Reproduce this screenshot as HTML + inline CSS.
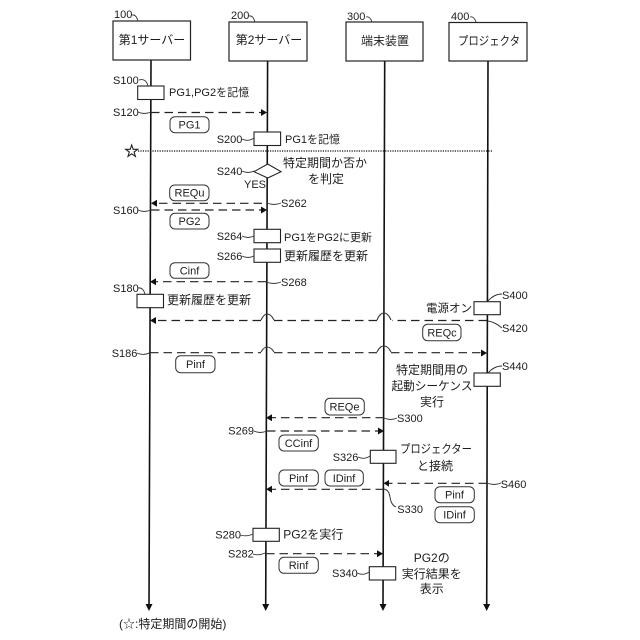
<!DOCTYPE html>
<html><head><meta charset="utf-8">
<style>
html,body{margin:0;padding:0;background:#fff;width:640px;height:640px;overflow:hidden}
svg{display:block}
text{font-family:"Liberation Sans","Noto Sans CJK JP",sans-serif;font-size:11px;fill:#1c1c1c}
.s{font-size:11px}
.b{font-size:12px}
.m{text-anchor:middle}
.l{stroke:#111;stroke-width:1.6;fill:none}
.d{stroke:#222;stroke-width:1.2;fill:none;stroke-dasharray:8.5 5}
.q{stroke:#333;stroke-width:.9;fill:none}
.r{stroke:#222;stroke-width:1.1;fill:#fff}
.p{stroke:#333;stroke-width:1;fill:#fff}
.h{fill:#111;stroke:none}
</style></head><body>
<svg width="640" height="640" viewBox="0 0 640 640" xmlns="http://www.w3.org/2000/svg">
<rect width="640" height="640" fill="#fff"/>

<!-- lifelines -->
<path class="l" d="M151 60L149 606M267.6 61L265.7 606M384.7 61L383 606M488 61L486.7 606"/>
<path class="h" d="M145.5 604H152.5L149 611ZM262.2 604H269.2L265.7 611ZM379.5 604H386.5L383 611ZM483.2 604H490.2L486.7 611Z"/>

<!-- header boxes -->
<g fill="#fff" stroke="#222" stroke-width="1.2">
<rect x="113" y="21" width="77.5" height="39"/>
<rect x="229" y="22" width="78" height="39"/>
<rect x="346" y="22" width="77" height="39"/>
<rect x="449" y="22.5" width="78" height="38.5"/>
</g>
<text class="b m" x="152" y="44">第1サーバー</text>
<text class="b m" x="269" y="44">第2サーバー</text>
<text class="b m" x="385" y="45">端末装置</text>
<text class="b m" x="489" y="45" textLength="62" lengthAdjust="spacingAndGlyphs">プロジェクタ</text>
<text x="114" y="18">100</text><path class="q" d="M132 15Q136 14 138 21"/>
<text x="231" y="19">200</text><path class="q" d="M249 16Q253 15 255 22"/>
<text x="347" y="20">300</text><path class="q" d="M366 17Q370 16 372 22"/>
<text x="451" y="20">400</text><path class="q" d="M470 17Q474 16 476 22"/>

<!-- dotted -->
<line x1="138" y1="151" x2="493" y2="151" stroke="#111" stroke-width="1.2" stroke-dasharray="1.2 1.2"/>
<path d="M131.7 145L133.2 149.3H137.7L134.1 152L135.4 156.4L131.7 153.8L128 156.4L129.3 152L125.7 149.3H130.2Z" fill="#fff" stroke="#222" stroke-width="1.1"/>

<!-- activity boxes -->
<rect class="r" x="137.7" y="86" width="26.3" height="13.5"/>
<rect class="r" x="254" y="132" width="26.6" height="13.5"/>
<path class="r" d="M267.7 164L281 171.7L267.7 178L254 171.7Z"/>
<rect class="r" x="254" y="229.3" width="26.5" height="13.4"/>
<rect class="r" x="254" y="249" width="26.5" height="13.3"/>
<rect class="r" x="137" y="294.3" width="26.5" height="13.4"/>
<rect class="r" x="474" y="301.7" width="26.3" height="13"/>
<rect class="r" x="474" y="373" width="26.3" height="13.3"/>
<rect class="r" x="370.3" y="450.3" width="25.7" height="13"/>
<rect class="r" x="253" y="528.3" width="26.3" height="13"/>
<rect class="r" x="369.3" y="566.7" width="26.4" height="13.3"/>

<!-- arrows -->
<path class="d" d="M151 112.5H262"/><path class="h" d="M261 109L267 112.5L261 116Z"/>
<path class="d" d="M262 203.3H156"/><path class="h" d="M157 199.8L151 203.3L157 206.8Z"/>
<path class="d" d="M151 210H262"/><path class="h" d="M261 206.5L267 210L261 213.5Z"/>
<path class="d" d="M266 281.7H156"/><path class="h" d="M156 278.2L150 281.7L156 285.2Z"/>

<path class="d" d="M487 320.5H392M377 320.5H274M261 320.5H155"/><path class="h" d="M156 317L150 320.5L156 324Z"/>
<path class="q" style="stroke-width:1.1" d="M261 320Q264 314 267 314Q271 314 274 320M377 320Q380 313 384 313Q388 313 391 320"/>
<path class="d" d="M150 352.7H261M274 352.7H377M391 352.7H481"/><path class="h" d="M481 349.5L487 353L481 356.5Z"/>
<path class="q" style="stroke-width:1.1" d="M261 352Q264 347 267 347Q271 347 274 352M377 352Q380 346 384 346Q388 346 391 352"/>

<path class="d" d="M384 417.7H272"/><path class="h" d="M272 414.2L266 417.7L272 421.2Z"/>
<path class="d" d="M267 431H378"/><path class="h" d="M378 427.5L384 431L378 434.5Z"/>
<path class="d" d="M487 483.3H389"/><path class="h" d="M389 480L383.5 483.3L389 486.6Z"/>
<path class="d" d="M384 489.3H272"/><path class="h" d="M272 485.8L266 489.3L272 492.8Z"/>
<path class="d" d="M266 553.7H378"/><path class="h" d="M377 550.2L383 553.7L377 557.2Z"/>

<!-- pills -->
<rect class="p" x="170" y="116.7" width="39" height="16" rx="5"/>
<rect class="p" x="169.7" y="185" width="39.3" height="15.7" rx="5"/>
<rect class="p" x="170" y="213.3" width="39" height="15.7" rx="5"/>
<rect class="p" x="170" y="262.7" width="39" height="15.6" rx="5"/>
<rect class="p" x="175.7" y="355.7" width="39.3" height="17" rx="5"/>
<rect class="p" x="422.7" y="324.3" width="38.3" height="16.4" rx="5"/>
<rect class="p" x="325" y="398.3" width="39.3" height="16.7" rx="5"/>
<rect class="p" x="279" y="435" width="39.3" height="16" rx="5"/>
<rect class="p" x="279" y="470" width="39.3" height="16" rx="5"/>
<rect class="p" x="325" y="470" width="38.3" height="16" rx="5"/>
<rect class="p" x="435" y="486.7" width="39.3" height="16" rx="5"/>
<rect class="p" x="435" y="506.7" width="39.3" height="16" rx="5"/>
<rect class="p" x="279" y="557.3" width="39.3" height="16" rx="5"/>
<text class="m" x="189.5" y="128.5">PG1</text>
<text class="m" x="189.5" y="196.5">REQu</text>
<text class="m" x="189.5" y="225">PG2</text>
<text class="m" x="189.5" y="274.5">Cinf</text>
<text class="m" x="195.5" y="368">Pinf</text>
<text class="m" x="442" y="336.5">REQc</text>
<text class="m" x="344.5" y="410.5">REQe</text>
<text class="m" x="298.5" y="447">CCinf</text>
<text class="m" x="298.5" y="482">Pinf</text>
<text class="m" x="344" y="482">IDinf</text>
<text class="m" x="454.5" y="498.5">Pinf</text>
<text class="m" x="454.5" y="518.5">IDinf</text>
<text class="m" x="298.5" y="569">Rinf</text>

<!-- step labels + leaders -->
<text class="s" x="113" y="84">S100</text><path class="q" d="M139 80Q146 78 148 86"/>
<text class="s" x="113" y="116">S120</text><path class="q" d="M138 112Q144 115 151 112"/>
<text class="s" x="216.7" y="143">S200</text><path class="q" d="M242 139Q248 142 254 138"/>
<text class="s" x="216.7" y="175">S240</text><path class="q" d="M242 171Q248 174 254 171"/>
<text class="s" x="244" y="188">YES</text>
<text class="s" x="281" y="207">S262</text><path class="q" d="M267 203Q274 206 281 203"/>
<text class="s" x="113" y="214">S160</text><path class="q" d="M138 210Q144 213 151 210"/>
<text class="s" x="216.7" y="240">S264</text><path class="q" d="M242 236Q248 239 254 236"/>
<text class="s" x="216.7" y="260">S266</text><path class="q" d="M242 256Q248 259 254 256"/>
<text class="s" x="281" y="286">S268</text><path class="q" d="M266 282Q274 285 281 282"/>
<text class="s" x="113" y="292">S180</text><path class="q" d="M138 288Q143 287 145 294"/>
<text class="s" x="502" y="299">S400</text><path class="q" d="M488 301Q494 294 502 294"/>
<text class="s" x="502" y="332">S420</text><path class="q" d="M488 321Q495 322 502 328"/>
<text class="s" x="111.7" y="357">S186</text><path class="q" d="M137 353Q143 356 150 352.7"/>
<text class="s" x="502" y="370">S440</text><path class="q" d="M488 373Q494 366 502 366"/>
<text class="s" x="397" y="422">S300</text><path class="q" d="M384 418Q391 421 397 418"/>
<text class="s" x="228.3" y="434.5">S269</text><path class="q" d="M254 431Q260 434 267 431"/>
<text class="s" x="332.7" y="461">S326</text><path class="q" d="M358 457Q364 460 370 456"/>
<text class="s" x="500.7" y="488">S460</text><path class="q" d="M487 483Q494 486 501 483"/>
<text class="s" x="397.3" y="513">S330</text><path class="q" d="M384 489Q389 490 390 497Q391 505 396 507"/>
<text class="s" x="215.3" y="538.5">S280</text><path class="q" d="M240 535Q247 537 253 534"/>
<text class="s" x="228" y="557.5">S282</text><path class="q" d="M253 554Q259 556 265 553"/>
<text class="s" x="332" y="577">S340</text><path class="q" d="M357 573Q363 576 369 572"/>

<!-- notes -->
<text x="169" y="96">PG1,PG2を記憶</text>
<text x="285" y="143">PG1を記憶</text>
<text class="b m" x="325" y="167">特定期間か否か</text>
<text class="b m" x="326" y="183">を判定</text>
<text x="284" y="241">PG1をPG2に更新</text>
<text class="b" x="284" y="260">更新履歴を更新</text>
<text class="b" x="167" y="304">更新履歴を更新</text>
<text class="m" x="449" y="312" style="font-size:11.5px">電源オン</text>
<text class="b m" x="432" y="374">特定期間用の</text>
<text class="b m" x="432" y="390" textLength="81" lengthAdjust="spacingAndGlyphs">起動シーケンス</text>
<text class="b m" x="432" y="406">実行</text>
<text class="b m" x="436" y="453" textLength="72" lengthAdjust="spacingAndGlyphs">プロジェクター</text>
<text class="b m" x="435" y="470">と接続</text>
<text x="283.3" y="538.5" class="b">PG2を実行</text>
<text class="b m" x="431.7" y="562">PG2の</text>
<text class="b m" x="431.7" y="578">実行結果を</text>
<text class="b m" x="431.7" y="593">表示</text>
<text class="b" x="119" y="628">(☆:特定期間の開始)</text>
</svg>
</body></html>
